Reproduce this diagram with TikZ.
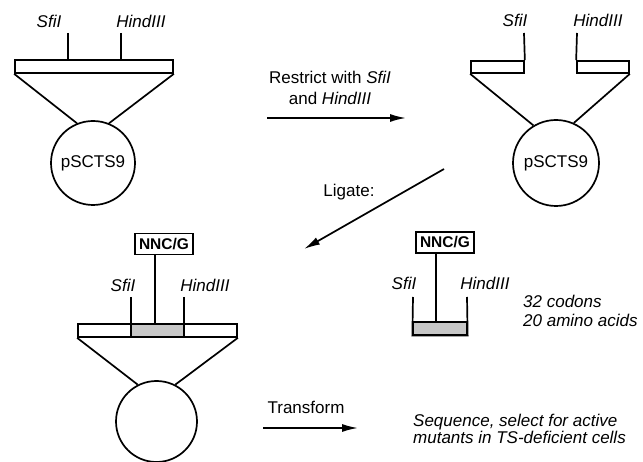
\documentclass[tikz,border=0pt]{standalone}
\usepackage{fontspec}
\setmainfont{Liberation Sans}
\usetikzlibrary{arrows.meta}
\begin{document}
\begin{tikzpicture}[x=1pt,y=-1pt,
  ln/.style={line width=1.7pt},
  lbl/.style={inner sep=0pt,font=\fontsize{17}{20}\selectfont\itshape},
  txt/.style={inner sep=0pt,font=\fontsize{17}{20}\selectfont},
  barbox/.style={draw,line width=1.7pt,rectangle,inner sep=0pt,minimum height=13pt},
  plasmid/.style={draw,line width=1.7pt,circle,inner sep=0pt,font=\fontsize{17}{20}\selectfont},
  nncbox/.style={draw,line width=1.7pt,rectangle,inner sep=0pt,minimum width=58pt,minimum height=21pt,font=\fontsize{15.5}{17}\selectfont\bfseries},
  gray/.style={fill=black!22,draw,line width=1.3pt,rectangle,inner sep=0pt},
  arr/.style={line width=1.7pt,-{Latex[length=16pt,width=8pt]}}
]
\useasboundingbox (0,0) rectangle (643,462);

% ---------- top left ----------
\node[barbox,minimum width=158pt] (bar1) at (94,66.5) {};
\node[plasmid,minimum size=84pt] (c1) at (93,163) {pSCTS9};
\coordinate (t1a) at (68,33);
\coordinate (t1b) at (121,33);
\draw[ln] (t1a) -- (t1a |- bar1.north);
\draw[ln] (t1b) -- (t1b |- bar1.north);
\node[lbl] (s1) at (49,21) {SfiI};
\node[lbl] (h1) at (141,21) {HindIII};
\draw[ln] (bar1.south west) -- (c1.112);
\draw[ln] (bar1.south east) -- (c1.68);

% ---------- restrict arrow ----------
\node[txt,align=center] (restrict) at (330,88) {Restrict with \textit{SfiI}\\[1pt]and \textit{HindIII}};
\coordinate (ra) at (267,118);
\coordinate (rb) at (406,118);
\draw[arr] (ra) -- (rb);

% ---------- top right ----------
\node[barbox,minimum width=53pt,minimum height=12pt] (stubL) at (497.5,67) {};
\node[barbox,minimum width=52pt,minimum height=12pt] (stubR) at (603,67) {};
\node[plasmid,minimum size=86pt] (c2) at (556,163) {pSCTS9};
\coordinate (t2a) at (524,33);
\coordinate (t2b) at (577,33);
\draw[ln] (t2a) -- (stubL.north east);
\draw[ln] (t2b) -- (stubR.north west);
\node[lbl] (s2) at (515,20) {SfiI};
\node[lbl] (h2) at (598,20) {HindIII};
\draw[ln] (stubL.south west) -- (c2.121);
\draw[ln] (stubR.south east) -- (c2.66);

% ---------- ligate arrow ----------
\coordinate (la) at (444,169);
\coordinate (lb) at (304,249);
\draw[arr] (la) -- (lb);
\node[txt] (ligate) at (349,192) {Ligate:};

% ---------- bottom left ----------
\node[barbox,minimum width=159pt] (bar3) at (157.5,330.5) {};
\node[gray,minimum width=53pt,minimum height=13pt] (g3) at (157.5,330.5) {};
\node[nncbox] (n3) at (164,244) {NNC/G};
\coordinate (t3a) at (131,297);
\coordinate (t3b) at (184,297);
\coordinate (t3c) at (155,300);
\draw[ln] (t3a) -- (t3a |- bar3.north);
\draw[ln] (t3b) -- (t3b |- bar3.north);
\draw[ln] (n3.south -| t3c) -- (t3c |- bar3.north);
\node[lbl] (s3) at (123,285) {SfiI};
\node[lbl] (h3) at (205,285) {HindIII};
\node[plasmid,minimum size=81pt] (c3) at (156.5,421.5) {};
\draw[ln] (bar3.south west) -- (c3.117);
\draw[ln] (bar3.south east) -- (c3.63);

% ---------- bottom middle insert ----------
\node[gray,minimum width=54pt,minimum height=13pt] (g4) at (440,328.5) {};
\node[nncbox] (n4) at (445,242.5) {NNC/G};
\coordinate (t4a) at (413,297);
\coordinate (t4b) at (467,297);
\coordinate (t4c) at (436,300);
\draw[ln] (t4a) -- (g4.south west) -- (g4.south east) -- (t4b);
\draw[ln] (n4.south -| t4c) -- (t4c |- g4.north);
\node[lbl] (s4) at (404,283) {SfiI};
\node[lbl] (h4) at (485,283) {HindIII};
\node[lbl,align=left,anchor=west] (codons) at (523,310.5) {32 codons\\[-1pt]20 amino acids};

% ---------- transform ----------
\node[txt] (transform) at (306,407) {Transform};
\coordinate (ta) at (263,428);
\coordinate (tb) at (358,428);
\draw[arr] (ta) -- (tb);
\node[lbl,align=left,anchor=west] (seq) at (413,428.5) {Sequence, select for active\\[-3pt]mutants in TS-deficient cells};
\end{tikzpicture}
\end{document}
